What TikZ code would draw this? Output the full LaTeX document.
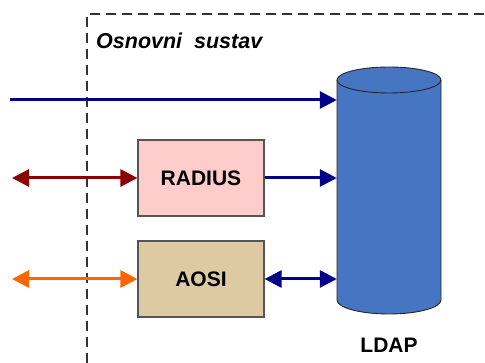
\documentclass[tikz,border=0pt]{standalone}
\usepackage{fontspec}
\setmainfont{Liberation Sans}
\usetikzlibrary{arrows.meta}
\definecolor{navy}{HTML}{000088}
\definecolor{darkred}{HTML}{8B0000}
\definecolor{orng}{HTML}{FF6600}
\definecolor{pinkfill}{HTML}{FFCCCC}
\definecolor{tanfill}{HTML}{DECAA2}
\definecolor{cylblue}{HTML}{4675C2}
\definecolor{edgegray}{HTML}{555555}
\tikzset{
  box/.style={draw=edgegray, line width=1.2pt, minimum width=126pt, minimum height=76pt, inner sep=0pt,
    font=\fontsize{21}{21}\selectfont\bfseries},
  conn/.style={line width=3pt, -{Triangle[length=17pt,width=17pt]}},
  bconn/.style={line width=3pt, {Triangle[length=17pt,width=17pt]}-{Triangle[length=17pt,width=17pt]}},
  boundary/.style={draw=black!80, line width=1.6pt, dash pattern=on 10pt off 6pt},
}
\begin{document}
\begin{tikzpicture}[x=1pt,y=-1pt]
\useasboundingbox (0,0) rectangle (485,363);
% boundary
\draw[boundary] (87,363) -- (87,14) -- (485,14);
\node[anchor=west, inner sep=0pt, font=\fontsize{21.5}{21.5}\selectfont\bfseries\itshape] (title) at (96,41) {Osnovni\ \ sustav};
% cylinder
\node[minimum width=104pt, minimum height=220pt, inner sep=0pt] (ldap) at (389,190) {};
\fill[cylblue] (337,80) -- (337,300) arc[start angle=180, end angle=360, x radius=52, y radius=-14] -- (441,80) arc[start angle=0, end angle=180, x radius=52, y radius=-13] -- cycle;
\draw[black!85, line width=0.9pt] (337,80) -- (337,300) arc[start angle=180, end angle=360, x radius=52, y radius=-14] -- (441,80) arc[start angle=0, end angle=180, x radius=52, y radius=-13];
\draw[black!85, line width=0.9pt] (337,80) arc[start angle=180, end angle=360, x radius=52, y radius=-13];
\node[font=\fontsize{21}{21}\selectfont\bfseries] (ldaplabel) at (389,345) {LDAP};
% boxes
\node[box, fill=pinkfill] (radius) at (201,178) {RADIUS};
\node[box, fill=tanfill] (aosi) at (201,279) {AOSI};
% free ends
\coordinate (in1) at (10,100);
\coordinate (in2) at (12,178);
\coordinate (in3) at (12,279);
% connectors
\draw[conn, navy] (in1) -- (ldap.west |- in1);
\draw[bconn, darkred] (in2) -- (radius.west);
\draw[conn, navy] (radius.east) -- (ldap.west |- radius.east);
\draw[bconn, orng] (in3) -- (aosi.west);
\draw[bconn, navy] (aosi.east) -- (ldap.west |- aosi.east);
\end{tikzpicture}
\end{document}
